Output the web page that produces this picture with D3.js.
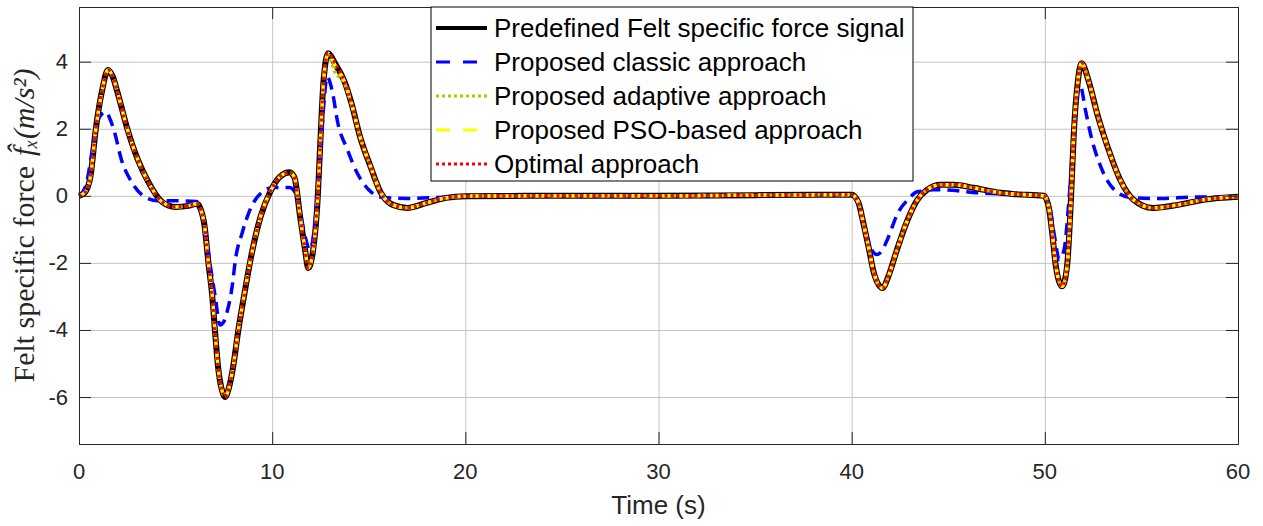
<!DOCTYPE html>
<html>
<head>
<meta charset="utf-8">
<script src="https://cdn.jsdelivr.net/npm/d3@7"></script>
<style>
  html, body { margin: 0; padding: 0; background: #fff; overflow: hidden; }
  svg { display: block; }
  .tick-label { font-family: "Liberation Sans", Arial, sans-serif; font-size: 22px; fill: #262626; }
</style>
</head>
<body>
<div id="chart"></div>
<script>
// Time samples for the reference signal and the curves that follow it closely
const tRef = [0,0.3,0.6,0.85,1.2,1.5,1.75,2.0,2.5,3.05,3.6,4.3,5.0,5.65,6.1,6.3,6.5,6.7,6.9,7.05,
  7.2,7.4,7.56,7.75,7.95,8.25,8.6,8.95,9.4,9.9,10.4,10.9,11.15,11.45,11.7,11.87,12.1,12.33,12.5,12.65,
  12.9,13.25,13.75,14.1,14.55,15.1,15.6,16.25,17.0,18.0,19.0,20.0,25,30,35,40.0,40.35,40.6,40.9,41.15,
  41.6,41.9,42.35,42.9,43.4,43.9,44.6,45.3,46.3,47.7,48.5,49.95,50.2,50.4,50.57,50.9,51.15,51.35,51.5,51.7,
  51.9,52.3,52.7,53.25,53.9,54.6,55.6,56.9,58.2,60];

const signalValues = [0,0.1,0.6,1.9,3.15,3.75,3.55,3.07,2.0,1.07,0.4,-0.18,-0.33,-0.3,-0.24,-0.4,-0.9,-2.0,-3.0,-4.1,
  -5.1,-5.8,-6.0,-5.75,-5.2,-4.0,-2.8,-1.7,-0.62,0.12,0.57,0.7,0.55,-0.63,-1.6,-2.15,-1.7,-0.33,1.67,3.36,
  4.25,3.95,3.4,2.77,1.76,0.86,0.12,-0.27,-0.36,-0.21,-0.06,-0.01,0,0,0.02,0.03,-0.2,-0.8,-1.6,-2.3,
  -2.75,-2.4,-1.6,-0.71,-0.12,0.18,0.33,0.33,0.24,0.09,0.05,0.0,-0.33,-1.2,-2.1,-2.7,-2.1,-0.12,1.87,3.36,
  3.95,3.36,2.47,1.46,0.48,-0.12,-0.36,-0.27,-0.12,-0.03];

const adaptiveValues = [0,0.1,0.6,1.9,3.15,3.75,3.55,3.07,2.0,1.07,0.4,-0.18,-0.33,-0.3,-0.24,-0.4,-0.9,-2.0,-3.0,-4.1,
  -5.1,-5.8,-6.0,-5.75,-5.2,-4.0,-2.8,-1.7,-0.62,0.12,0.57,0.7,0.55,-0.63,-1.6,-2.15,-1.7,-0.33,1.67,3.36,
  4.2,3.7,3.35,2.75,1.76,0.86,0.12,-0.27,-0.36,-0.21,-0.06,-0.01,0,0,0.02,0.03,-0.2,-0.8,-1.6,-2.3,
  -2.75,-2.4,-1.6,-0.71,-0.12,0.18,0.33,0.33,0.24,0.09,0.05,0.0,-0.33,-1.2,-2.1,-2.7,-2.1,-0.12,1.87,3.36,
  3.95,3.36,2.47,1.46,0.48,-0.12,-0.36,-0.27,-0.12,-0.03];

const psoValues = [0,0.1,0.6,1.9,3.15,3.75,3.55,3.07,2.0,1.07,0.4,-0.18,-0.33,-0.3,-0.24,-0.4,-0.9,-2.0,-3.0,-4.1,
  -5.1,-5.8,-6.0,-5.75,-5.2,-4.0,-2.8,-1.7,-0.62,0.12,0.57,0.7,0.55,-0.63,-1.6,-2.15,-1.7,-0.33,1.67,3.36,
  4.25,3.9,3.4,2.77,1.76,0.86,0.12,-0.27,-0.36,-0.21,-0.06,-0.01,0,0,0.02,0.03,-0.2,-0.8,-1.6,-2.3,
  -2.75,-2.4,-1.6,-0.71,-0.12,0.18,0.33,0.33,0.24,0.09,0.05,0.0,-0.33,-1.2,-2.1,-2.7,-2.1,-0.12,1.87,3.36,
  3.95,3.36,2.47,1.46,0.48,-0.12,-0.36,-0.27,-0.12,-0.03];

const optimalValues = [0,0.1,0.6,1.9,3.15,3.75,3.55,3.07,2.0,1.07,0.4,-0.18,-0.33,-0.3,-0.24,-0.4,-0.9,-2.0,-3.0,-4.1,
  -5.1,-5.8,-6.0,-5.75,-5.2,-4.0,-2.8,-1.7,-0.62,0.12,0.57,0.7,0.55,-0.63,-1.6,-2.15,-1.7,-0.33,1.67,3.36,
  4.25,3.95,3.4,2.77,1.76,0.86,0.12,-0.27,-0.36,-0.21,-0.06,-0.01,0,0,0.02,0.03,-0.2,-0.8,-1.6,-2.3,
  -2.75,-2.4,-1.6,-0.71,-0.12,0.18,0.33,0.33,0.24,0.09,0.05,0.0,-0.33,-1.2,-2.1,-2.7,-2.1,-0.12,1.87,3.36,
  3.95,3.36,2.47,1.46,0.48,-0.12,-0.36,-0.27,-0.12,-0.03];

// Classic approach has its own sampling
const tClassic = [0,0.35,0.7,0.95,1.2,1.4,1.6,1.85,2.2,2.75,3.4,4.1,5.0,6.1,6.3,6.5,6.8,7.05,7.3,7.5,
  7.67,7.93,8.1,8.45,8.85,9.5,10.05,10.9,11.2,11.55,11.95,12.2,12.4,12.6,12.85,13.1,13.4,13.9,14.4,15.0,
  15.75,17,18.5,20,30,40.0,40.3,40.6,40.95,41.3,41.55,41.85,42.4,42.9,43.4,44.25,45.5,46.3,47.5,49.95,
  50.25,50.5,50.75,51.0,51.25,51.45,51.7,51.85,52.1,52.4,52.9,53.6,54.5,56,57.6,60];
const classicValues = [0,0.3,1.4,2.2,2.45,2.5,2.3,1.87,1.07,0.39,-0.03,-0.15,-0.15,-0.17,-0.45,-1.0,-2.1,-3.0,-3.85,-3.75,
  -3.45,-2.7,-1.9,-1.1,-0.42,0.12,0.25,0.25,0.09,-0.8,-1.6,-0.92,0.48,2.17,3.55,3.15,2.17,1.37,0.68,0.18,
  -0.05,-0.08,-0.05,-0.01,0,0.03,-0.2,-0.8,-1.5,-1.75,-1.65,-1.3,-0.5,-0.12,0.12,0.18,0.15,0.1,0.06,0.02,
  -0.33,-1.2,-1.9,-1.6,-0.12,1.37,3.07,3.25,2.56,1.76,0.86,0.18,-0.06,-0.08,-0.04,-0.03];

const xTicks = [0, 10, 20, 30, 40, 50, 60];
const yTicks = [-6, -4, -2, 0, 2, 4];

const legendLabels = [
  "Predefined Felt specific force signal",
  "Proposed classic approach",
  "Proposed adaptive approach",
  "Proposed PSO-based approach",
  "Optimal approach"
];

const width = 1263, height = 526;
const margin = { top: 7, right: 25, bottom: 82, left: 79 };
const innerWidth = width - margin.left - margin.right;
const innerHeight = height - margin.top - margin.bottom;

const svg = d3.select("#chart").append("svg")
  .attr("width", width)
  .attr("height", height);

const inner = svg.append("g")
  .attr("transform", `translate(${margin.left},${margin.top})`);

const xScale = d3.scaleLinear().domain([0, 60]).range([0, innerWidth]);
const yScale = d3.scaleLinear().domain([-7.4, 5.63]).range([innerHeight, 0]);

// Grid
inner.append("g")
  .attr("transform", `translate(0,${innerHeight})`)
  .call(d3.axisBottom(xScale).tickValues(xTicks).tickSize(-innerHeight).tickFormat(""))
  .call(g => g.select(".domain").remove())
  .call(g => g.selectAll("line").attr("stroke", "#c4c4c4"));
inner.append("g")
  .call(d3.axisLeft(yScale).tickValues(yTicks).tickSize(-innerWidth).tickFormat(""))
  .call(g => g.select(".domain").remove())
  .call(g => g.selectAll("line").attr("stroke", "#c4c4c4"));

// Series styles
const series = [
  { t: tRef, v: signalValues, color: "#000000", width: 6, dash: null },
  { t: tClassic, v: classicValues, color: "#0000ff", width: 3.5, dash: "12,7" },
  { t: tRef, v: adaptiveValues, color: "#bfbf00", width: 3.5, dash: "3,3" },
  { t: tRef, v: psoValues, color: "#ffff00", width: 3.5, dash: "10,6" },
  { t: tRef, v: optimalValues, color: "#ff0000", width: 3.5, dash: "3,3" }
];

const line = d3.line()
  .x(d => xScale(d[0]))
  .y(d => yScale(d[1]))
  .curve(d3.curveMonotoneX);

series.forEach(s => {
  inner.append("path")
    .datum(s.t.map((t, i) => [t, s.v[i]]))
    .attr("fill", "none")
    .attr("stroke", s.color)
    .attr("stroke-width", s.width)
    .attr("stroke-dasharray", s.dash)
    .attr("stroke-linejoin", "round")
    .attr("d", line);
});

// Axes with inward ticks on all four sides (labels drawn separately)
const axisColor = "#262626";
const xAxis = inner.append("g")
  .attr("transform", `translate(0,${innerHeight})`)
  .call(d3.axisBottom(xScale).tickValues(xTicks).tickSize(-12).tickFormat(""));
const yAxis = inner.append("g")
  .call(d3.axisLeft(yScale).tickValues(yTicks).tickSize(-12).tickFormat(""));
const topAxis = inner.append("g")
  .call(d3.axisTop(xScale).tickValues(xTicks).tickSize(-12).tickFormat(""));
const rightAxis = inner.append("g")
  .attr("transform", `translate(${innerWidth},0)`)
  .call(d3.axisRight(yScale).tickValues(yTicks).tickSize(-12).tickFormat(""));

[xAxis, yAxis, topAxis, rightAxis].forEach(a => {
  a.select(".domain").attr("stroke", axisColor).attr("stroke-width", 1);
  a.selectAll(".tick line").attr("stroke", axisColor);
});

// Tick labels
svg.append("g").selectAll("text")
  .data(xTicks)
  .join("text")
  .attr("class", "tick-label")
  .attr("x", d => margin.left + xScale(d))
  .attr("y", margin.top + innerHeight + 35)
  .attr("text-anchor", "middle")
  .text(d => String(d));

svg.append("g").selectAll("text")
  .data(yTicks)
  .join("text")
  .attr("class", "tick-label")
  .attr("x", margin.left - 11)
  .attr("y", d => margin.top + yScale(d))
  .attr("dy", "0.34em")
  .attr("text-anchor", "end")
  .text(d => String(d));

// Axis labels
svg.append("text")
  .attr("x", margin.left + innerWidth / 2)
  .attr("y", 514)
  .attr("text-anchor", "middle")
  .style("font-family", "Liberation Sans, Arial, sans-serif")
  .style("font-size", "26px")
  .style("fill", "#262626")
  .text("Time (s)");

// Rotated y label in two parts: local (x, y) maps to screen (y, 800 - x)
const yLabelGroup = svg.append("g").attr("transform", "translate(0,800) rotate(-90)");
const yLabelText = yLabelGroup.append("text")
  .attr("y", 34)
  .style("font-family", "Liberation Serif, Times New Roman, serif")
  .style("font-size", "30px")
  .style("fill", "#262626")
  .text("Felt specific force");
const yLabelMath = yLabelGroup.append("text")
  .attr("y", 34)
  .style("font-family", "Liberation Serif, DejaVu Serif, serif")
  .style("font-size", "30px")
  .style("font-style", "italic")
  .style("fill", "#262626")
  .text("f\u0302\u2093(m/s\u00b2)");
const gap = 10;
const w1 = yLabelText.node().getComputedTextLength();
const w2 = yLabelMath.node().getComputedTextLength();
const startX = 800 - (margin.top + innerHeight / 2) - (w1 + gap + w2) / 2;
yLabelText.attr("x", startX);
yLabelMath.attr("x", startX + w1 + gap);

// Legend
const legend = svg.append("g").attr("transform", "translate(431,7)");
legend.append("rect")
  .attr("width", 482)
  .attr("height", 174)
  .attr("fill", "#fff")
  .attr("stroke", "#000")
  .attr("stroke-width", 1);

legendLabels.forEach((label, i) => {
  const s = series[i];
  const g = legend.append("g").attr("transform", `translate(0,${21 + i * 34})`);
  g.append("line")
    .attr("x1", 5).attr("x2", 56)
    .attr("stroke", s.color)
    .attr("stroke-width", i === 0 ? 4 : 3)
    .attr("stroke-dasharray", i === 1 || i === 3 ? "14,13" : s.dash);
  g.append("text")
    .attr("x", 63)
    .attr("y", 9)
    .style("font-family", "Liberation Sans, Arial, sans-serif")
    .style("font-size", "26px")
    .style("fill", "#000")
    .text(label);
});
</script>
</body>
</html>
